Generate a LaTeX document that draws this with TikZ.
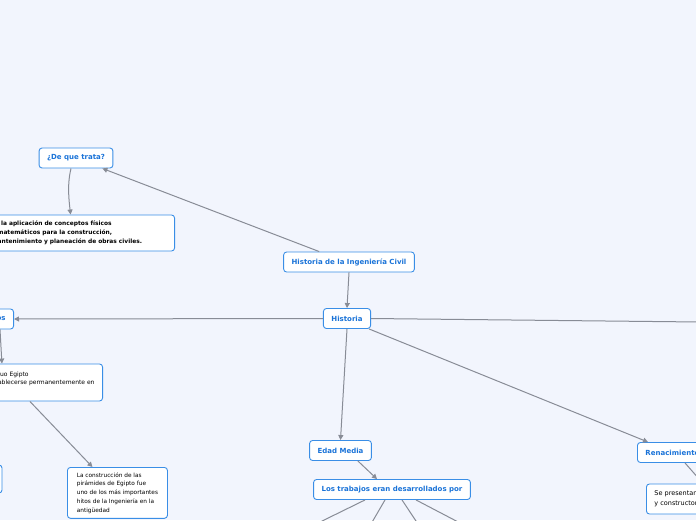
\documentclass[tikz,border=0pt]{standalone}
\usepackage{fontspec}
\setmainfont{DejaVu Sans}
\usetikzlibrary{arrows.meta}

\definecolor{bgblue}{RGB}{242,245,253}
\definecolor{boxblue}{RGB}{58,142,230}
\definecolor{textblue}{RGB}{26,115,216}
\definecolor{linegray}{RGB}{136,140,150}

\begin{document}
\begin{tikzpicture}[x=1pt, y=-1pt,
    topic/.style={draw=boxblue, fill=white, rounded corners=3pt, line width=0.9pt,
        text=textblue, font=\fontsize{7}{8}\selectfont\bfseries,
        minimum height=20pt, inner xsep=8pt},
    note/.style={draw=boxblue, fill=white, rounded corners=3pt, line width=0.9pt,
        align=left, inner xsep=8pt, inner ysep=4pt},
    link/.style={draw=linegray, line width=1pt},
    arr/.style={link, -{Triangle[length=5pt, width=5pt]}}
]

% Canvas
\useasboundingbox (0,0) rectangle (696,520);
\fill[bgblue] (0,0) rectangle (696,520);
\clip (0,0) rectangle (696,520);

% Main topics
\node[topic] (hic)   at (349,262)   {Historia de la Ingeniería Civil};
\node[topic] (trata) at (76,158)    {¿De que trata?};
\node[topic] (hist)  at (347,318.5) {Historia};
\node[topic, anchor=east] (egip) at (14,319) {Egipcios};
\node[topic] (media) at (340.5,450.5) {Edad Media};
\node[topic, minimum width=156pt] (trab) at (392,489.5) {Los trabajos eran desarrollados por};
\node[topic, anchor=west] (rena) at (637,452.5) {Renacimiento};

% Notes
\node[note, anchor=east, text width=175pt, minimum height=36pt,
      font=\fontsize{5.9}{9}\selectfont\bfseries]
    (def) at (175,233) {Es la aplicación de conceptos físicos\\
    y matemáticos para la construcción,\\
    mantenimiento y planeación de obras civiles.};
\node[note, anchor=east, minimum height=37pt, font=\fontsize{6}{8.5}\selectfont]
    (egypt) at (103,382.5) {del Antiguo Egipto\\
    para establecerse permanentemente en\\ ~};
\node[note, anchor=north west, inner xsep=7pt, inner ysep=5pt, minimum width=100pt,
      font=\fontsize{5.8}{8.75}\selectfont]
    (pyr) at (67,467) {La construcción de las\\ pirámides de Egipto fue\\
    uno de los más importantes\\ hitos de la Ingeniería en la\\ antigüedad};
\node[note, anchor=west, minimum height=30pt, font=\fontsize{6.5}{10}\selectfont]
    (se) at (646,499) {Se presentan grandes arquitectos\\ y constructores};
\draw[draw=boxblue, fill=white, rounded corners=3pt, line width=0.9pt] (-60,465) rectangle (2,493);

% Free ends outside the frame
\coordinate (rightEnd) at (700,322);
\coordinate (seEnd)  at (700,480);
\coordinate (t1) at (316,524);
\coordinate (t2) at (371,524);
\coordinate (t3) at (418,524);
\coordinate (t4) at (462,524);

% Connectors
\draw[arr] ([xshift=36pt]hic.north west) -- ([xshift=-11pt]trata.south east);
\draw[arr] ([xshift=-5pt]trata.south) .. controls (67,185) and (69,200) .. ([xshift=-8.5pt]def.north);
\draw[arr] (hic.south) -- (hist.north);
\draw[arr] (hist.west) -- (egip.east);
\draw[link] (hist.east) -- (rightEnd);
\draw[arr] (hist.south) -- (media.north);
\draw[arr] ([xshift=-2pt]hist.south east) -- ([xshift=11pt]rena.north west);
\draw[arr] ([xshift=-14pt]egip.south east) -- ([xshift=-32pt]egypt.north);
\draw[arr] ([xshift=-4pt]egypt.south) -- ([xshift=-25pt]pyr.north);
\draw[arr] ([xshift=-14pt]media.south east) -- ([xshift=-15pt]trab.north);
\draw[link] ([xshift=48pt]rena.south west) -- (seEnd);
\foreach \dx/\t in {-27/t1, -7/t2, 10/t3, 24/t4}
    \draw[link] ([xshift=\dx pt]trab.south) -- (\t);

\end{tikzpicture}
\end{document}
